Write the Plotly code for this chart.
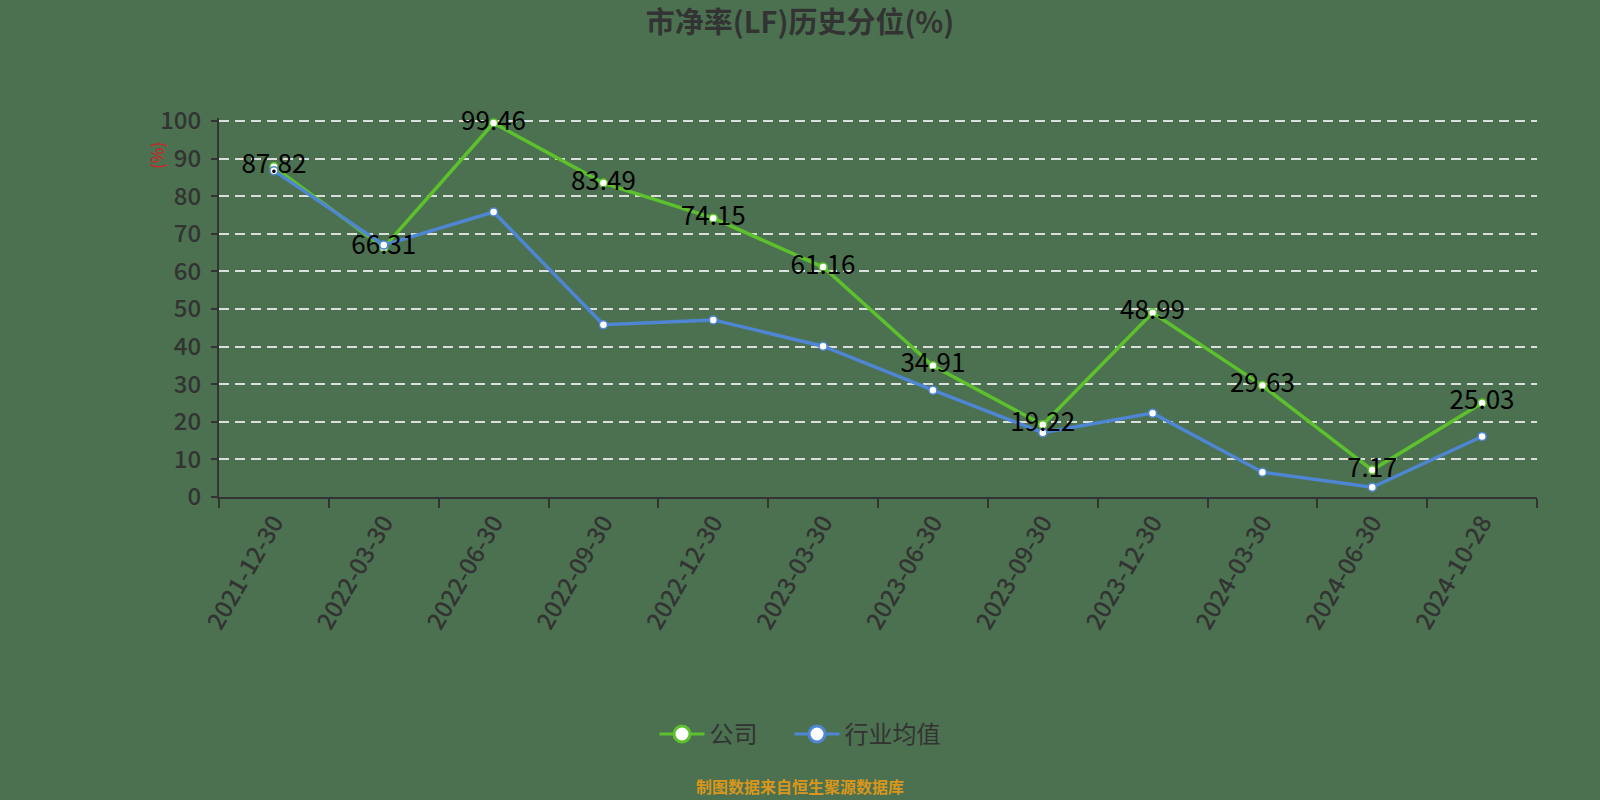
import plotly.graph_objects as go

# 数据
dates = ["2021-12-30", "2022-03-30", "2022-06-30", "2022-09-30", "2022-12-30", "2023-03-30",
         "2023-06-30", "2023-09-30", "2023-12-30", "2024-03-30", "2024-06-30", "2024-10-28"]
company = [87.82, 66.31, 99.46, 83.49, 74.15, 61.16, 34.91, 19.22, 48.99, 29.63, 7.17, 25.03]
industry = [86.8, 67.0, 75.8, 45.8, 47.1, 40.1, 28.4, 17.1, 22.3, 6.6, 2.6, 16.1]
y_ticks = [0, 10, 20, 30, 40, 50, 60, 70, 80, 90, 100]

FONT = "Noto Sans CJK SC"
COLORS = {
    "bg": "#4b7150",
    "green": "#5cc12c",
    "blue": "#4f86d4",
    "text": "#333333",
    "grid": "rgba(235,235,235,0.9)",
    "footer": "#d8971c",
}

fig = go.Figure()

fig.add_trace(go.Scatter(
    x=dates, y=company, mode="lines+markers", name="公司", showlegend=False,
    line=dict(color=COLORS["green"], width=3.5), cliponaxis=False,
    marker=dict(size=8, color="white", line=dict(color=COLORS["green"], width=1.5)),
))
fig.add_trace(go.Scatter(
    x=dates, y=industry, mode="lines+markers", name="行业均值", showlegend=False,
    line=dict(color=COLORS["blue"], width=3.5), cliponaxis=False,
    marker=dict(size=8, color="white", line=dict(color=COLORS["blue"], width=1.5)),
))
# labels on top of both lines
fig.add_trace(go.Scatter(
    x=dates, y=company, mode="text", showlegend=False, hoverinfo="skip", cliponaxis=False,
    text=[f"{v:.2f}" for v in company], textposition="middle center",
    textfont=dict(family=FONT, size=26, color="#000000"),
))

# legend entries
for name, col, lw in [("公司", COLORS["green"], 75), ("行业均值", COLORS["blue"], None)]:
    fig.add_trace(go.Scatter(
        x=[None], y=[None], mode="lines+markers", name=name, legendwidth=lw,
        line=dict(color=col, width=3),
        marker=dict(size=20, color="white", line=dict(color=col, width=3)),
    ))

fig.update_layout(
    width=1600, height=800,
    paper_bgcolor=COLORS["bg"],
    plot_bgcolor=COLORS["bg"],
    font=dict(family=FONT, color=COLORS["text"]),
    title=dict(text="<b>市净率(LF)历史分位(%)</b>", x=0.5, xanchor="center",
               y=0.971, yanchor="middle", font=dict(size=29, color=COLORS["text"])),
    margin=dict(l=219, r=63, t=118, b=303),
    showlegend=True,
    legend=dict(orientation="h", x=0.5, xanchor="center", xref="container", yref="container",
                y=0.082, yanchor="middle", font=dict(size=24, color=COLORS["text"]),
                bgcolor="rgba(0,0,0,0)", itemwidth=45),
    annotations=[
        dict(text="(%)", xref="paper", yref="paper", x=-0.047, y=0.9, xanchor="center",
             yanchor="middle", showarrow=False, textangle=-90,
             font=dict(size=17, color="#d42020")),
        dict(text="<b>制图数据来自恒生聚源数据库</b>", xref="paper", yref="paper",
             x=0.441, y=-0.762, xanchor="center", yanchor="middle", showarrow=False,
             font=dict(size=16, color=COLORS["footer"])),
    ],
)

fig.update_xaxes(
    type="category", range=[-0.5, 11.5], showgrid=False,
    showline=True, linecolor=COLORS["text"], linewidth=2,
    ticks="outside", tickson="boundaries", ticklen=9, tickwidth=2, tickcolor=COLORS["text"],
    tickangle=-60, tickfont=dict(size=24, color=COLORS["text"], weight=500),
)
fig.update_yaxes(
    range=[0, 100.8], tickvals=y_ticks, showgrid=True, gridcolor=COLORS["grid"],
    griddash="10px,6px", gridwidth=1.5, zeroline=False,
    showline=True, linecolor=COLORS["text"], linewidth=2,
    ticks="outside", ticklen=6, tickwidth=2, tickcolor=COLORS["text"],
    ticklabelstandoff=5,
    tickfont=dict(size=24, color=COLORS["text"], weight=500),
)

fig.write_html("out.html", config={"displayModeBar": False},
               post_script="document.body.style.margin='0';document.body.style.overflow='hidden';")
